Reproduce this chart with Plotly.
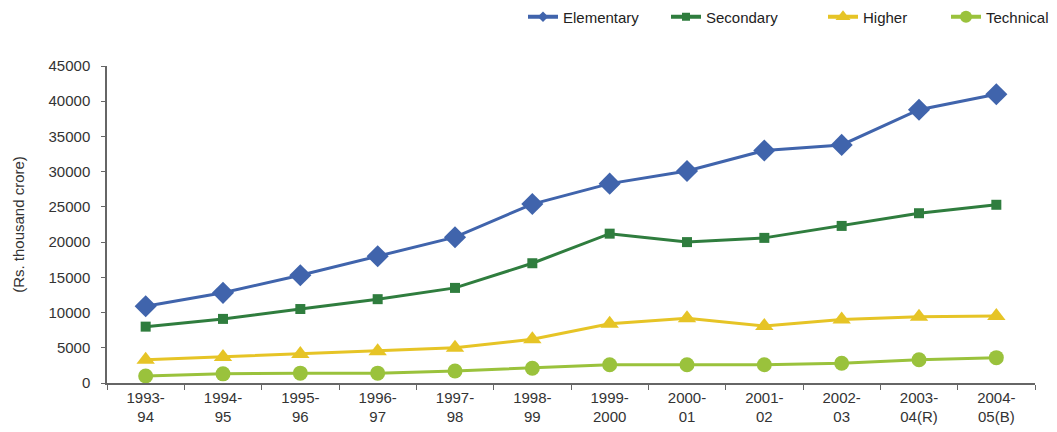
import plotly.graph_objects as go

years = ["1993-<br>94", "1994-<br>95", "1995-<br>96", "1996-<br>97", "1997-<br>98", "1998-<br>99",
         "1999-<br>2000", "2000-<br>01", "2001-<br>02", "2002-<br>03", "2003-<br>04(R)", "2004-<br>05(B)"]
elementary = [10900, 12800, 15300, 18000, 20700, 25400, 28300, 30100, 33000, 33800, 38800, 41000]
secondary = [8000, 9100, 10500, 11900, 13500, 17000, 21200, 20000, 20600, 22300, 24100, 25300]
higher = [3300, 3700, 4100, 4500, 5000, 6200, 8400, 9200, 8100, 9000, 9400, 9500]
technical = [1000, 1300, 1400, 1400, 1700, 2100, 2600, 2600, 2600, 2800, 3300, 3600]

series = [
    ("Elementary", elementary, "#4064AC", "diamond", 17, 8),
    ("Secondary", secondary, "#2F7D3E", "square", 10, 8),
    ("Higher", higher, "#E6C426", "triangle-up", 16, 13),
    ("Technical", technical, "#9AC23C", "circle", 15, 12),
]
legend_x_px = [515, 658, 815, 938]  # left edge of each legend box (figure pixels)

FONT = "Liberation Sans, Arial, sans-serif"
W, H = 1057, 432

fig = go.Figure()
layout_legends = {}
for i, (name, vals, col, sym, sz, lsz) in enumerate(series):
    lname = "legend" if i == 0 else f"legend{i + 1}"
    fig.add_trace(go.Scatter(
        x=years, y=vals, name=name, mode="lines+markers", showlegend=False,
        line=dict(color=col, width=3),
        marker=dict(symbol=sym, size=sz, color=col),
    ))
    # legend-only entry with a smaller symbol, like the reference legend
    fig.add_trace(go.Scatter(
        x=[None], y=[None], name=name, mode="lines+markers", legend=lname,
        line=dict(color=col, width=4),
        marker=dict(symbol=sym, size=lsz, color=col),
    ))
    layout_legends[lname] = dict(
        orientation="h", xref="container", yref="container",
        x=legend_x_px[i] / W, xanchor="left", y=1 - 9 / H, yanchor="middle",
        font=dict(size=15, color="#222222"), bgcolor="rgba(0,0,0,0)",
        itemsizing="trace",
    )

fig.update_layout(
    width=W, height=H,
    margin=dict(l=99, r=30, t=58, b=57),
    paper_bgcolor="white", plot_bgcolor="white",
    font=dict(family=FONT, size=15, color="#333333"),
    showlegend=True,
    **layout_legends,
)
fig.update_xaxes(
    type="category", range=[-0.5, 11.5], showgrid=False, automargin=False,
    showline=True, linecolor="#666666", linewidth=1.5,
    ticks="outside", ticklen=5, tickcolor="#666666", tickson="boundaries",
    tickfont=dict(size=15, color="#333333"),
)
fig.update_yaxes(
    range=[0, 45000], dtick=5000, tickformat="d", showgrid=False, zeroline=False,
    automargin=False,
    showline=True, linecolor="#666666", linewidth=1.5,
    ticks="outside", ticklen=4, tickcolor="#666666", ticklabelstandoff=8,
    tickfont=dict(size=15, color="#333333"),
    title=dict(text="(Rs. thousand crore)", font=dict(size=15, color="#333333"), standoff=20),
)

fig.write_html("out.html")
